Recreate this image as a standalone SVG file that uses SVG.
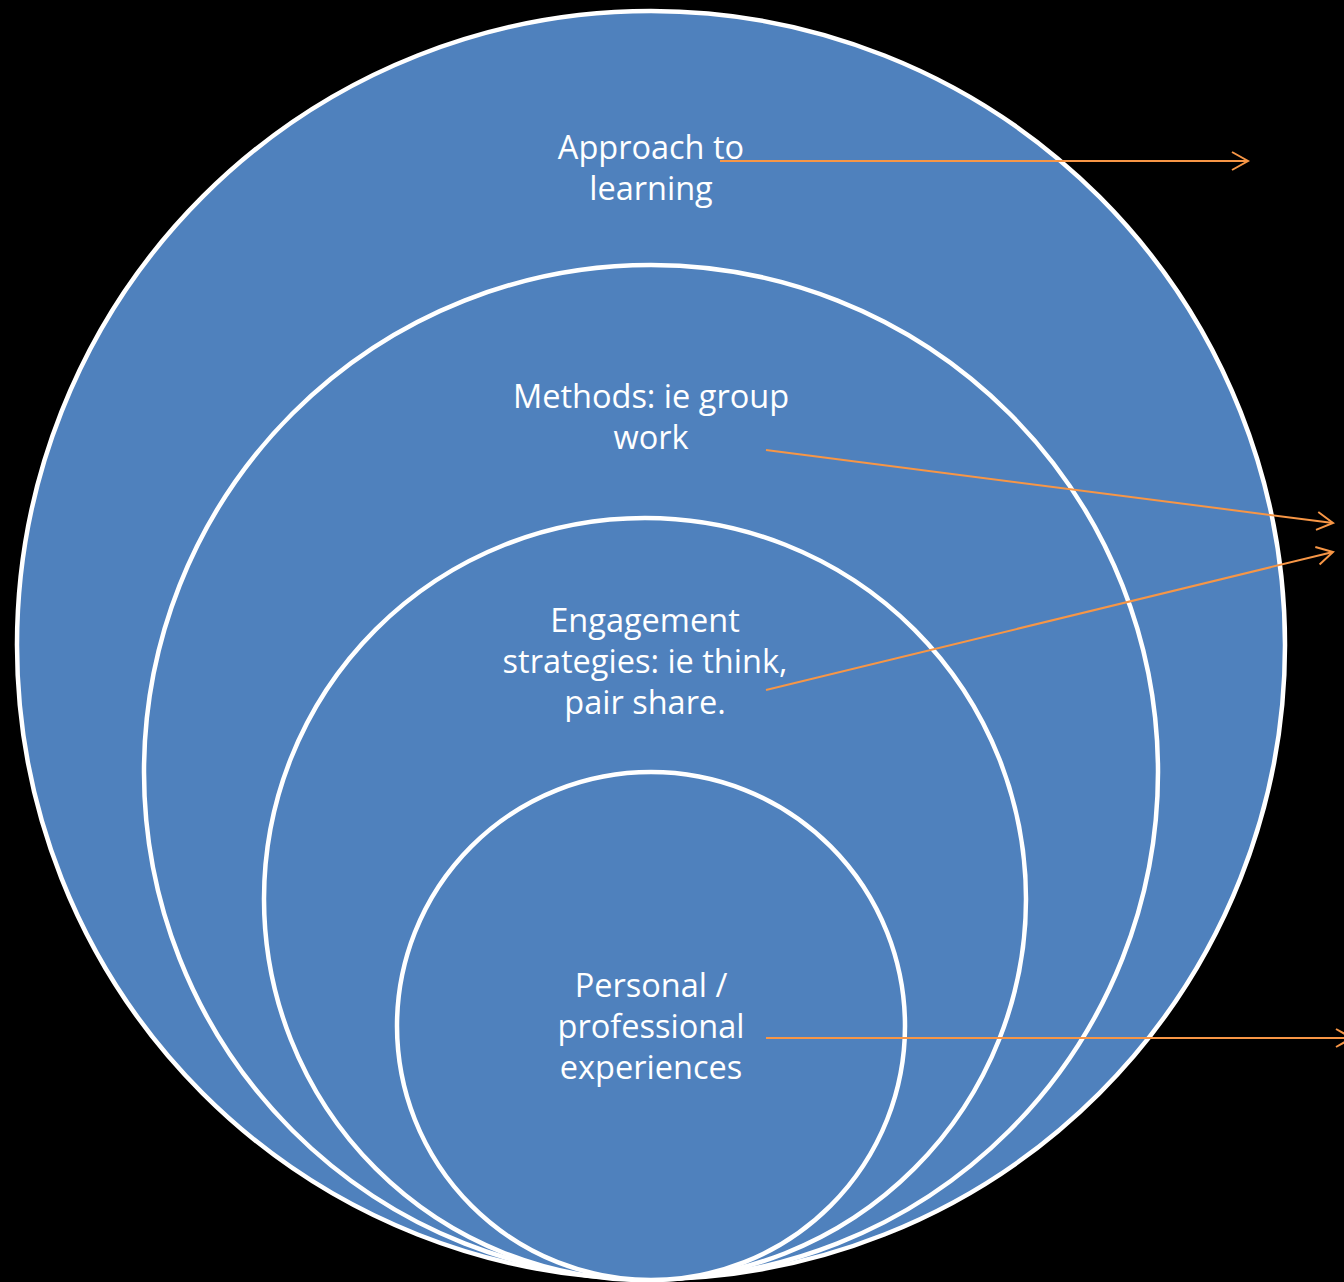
<svg xmlns="http://www.w3.org/2000/svg" width="1344" height="1282" viewBox="0 0 1344 1282">
<defs>
<style>
.ring{fill:#4F81BD;stroke:#FFFFFF;stroke-width:4.5}
.lbl{font-family:"Open Sans","Liberation Sans",sans-serif;font-size:32.5px;fill:#FFFFFF;text-anchor:middle}
.conn{stroke:#F79646;stroke-width:2;fill:none;marker-end:url(#arr)}
</style>
<marker id="arr" markerUnits="userSpaceOnUse" markerWidth="40" markerHeight="40" viewBox="-20 -20 40 40" refX="0" refY="0" orient="auto" overflow="visible">
<path d="M-16,-9 L0,0 L-16,9" fill="none" stroke="#F79646" stroke-width="2"/>
</marker>
</defs>
<rect x="0" y="0" width="1344" height="1282" fill="#000000"/>
<g id="node-approach">
<circle class="ring" cx="651" cy="645" r="634"/>
<text class="lbl" x="651" y="159">Approach to</text>
<text class="lbl" x="651" y="200">learning</text>
</g>
<g id="node-methods">
<circle class="ring" cx="651" cy="772" r="507"/>
<text class="lbl" x="651" y="408">Methods: ie group</text>
<text class="lbl" x="651" y="449">work</text>
</g>
<g id="node-engagement">
<circle class="ring" cx="645" cy="899" r="381"/>
<text class="lbl" x="645" y="632">Engagement</text>
<text class="lbl" x="645" y="673">strategies: ie think,</text>
<text class="lbl" x="645" y="714">pair share.</text>
</g>
<g id="node-personal">
<circle class="ring" cx="651" cy="1026" r="254"/>
<text class="lbl" x="651" y="997">Personal /</text>
<text class="lbl" x="651" y="1038">professional</text>
<text class="lbl" x="651" y="1079">experiences</text>
</g>
<g id="connectors">
<line class="conn" x1="720" y1="161" x2="1248" y2="161"/>
<line class="conn" x1="766" y1="450" x2="1333" y2="523"/>
<line class="conn" x1="766" y1="690" x2="1333" y2="552"/>
<line class="conn" x1="766" y1="1038" x2="1352" y2="1038"/>
</g>
</svg>
